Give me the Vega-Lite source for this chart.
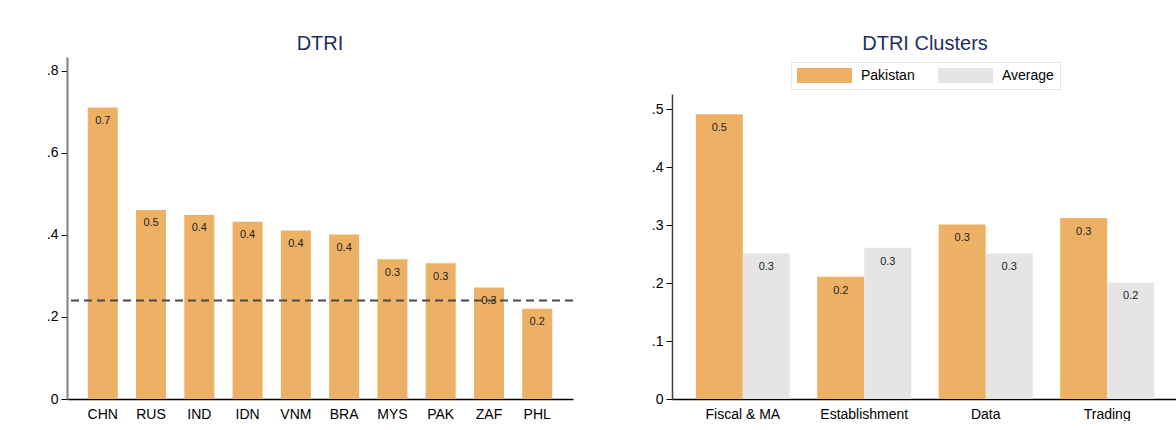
{
  "$schema": "https://vega.github.io/schema/vega-lite/v6.json",
  "background": "white",
  "padding": {"top": 34, "left": 46, "right": 0, "bottom": 0},
  "config": {
    "font": "Liberation Sans, Arial, sans-serif",
    "view": {"stroke": null},
    "axis": {"grid": false, "labelFont": "Liberation Sans, Arial, sans-serif", "labelFontSize": 14, "labelColor": "#000000", "title": null},
    "legend": {"layout": {"top": {"anchor": "middle"}}}
  },
  "columns": 2,
  "align": "none",
  "spacing": 77,
  "resolve": {"scale": {"color": "independent"}},
  "concat": [
    {
      "width": 506,
      "height": 342,
      "title": {"text": "DTRI", "fontSize": 20, "fontWeight": "normal", "color": "#1e2f5c", "anchor": "middle", "frame": "group", "offset": 3, "font": "Liberation Sans, Arial, sans-serif"},
      "data": {"values": [
        {"country": "CHN", "dtri": 0.711},
        {"country": "RUS", "dtri": 0.461},
        {"country": "IND", "dtri": 0.449},
        {"country": "IDN", "dtri": 0.432},
        {"country": "VNM", "dtri": 0.411},
        {"country": "BRA", "dtri": 0.401},
        {"country": "MYS", "dtri": 0.341},
        {"country": "PAK", "dtri": 0.331},
        {"country": "ZAF", "dtri": 0.272},
        {"country": "PHL", "dtri": 0.22}
      ]},
      "encoding": {
        "x": {"field": "country", "type": "nominal", "sort": null,
              "scale": {"paddingInner": 0.378, "paddingOuter": 0.43},
              "axis": {"ticks": false, "labelAngle": 0, "labelPadding": 8, "domainColor": "#000000", "domainWidth": 1.5, "title": null}},
        "y": {"field": "dtri", "type": "quantitative",
              "scale": {"domain": [0, 0.834], "nice": false, "zero": true},
              "axis": {"values": [0, 0.2, 0.4, 0.6, 0.8],
                       "labelExpr": "datum.value == 0 ? '0' : replace(format(datum.value, '.1f'), '0.', '.')",
                       "domainColor": "#808080", "domainWidth": 2, "tickColor": "#000000", "tickSize": 6, "tickWidth": 1, "labelPadding": 3, "title": null}}
      },
      "layer": [
        {"mark": {"type": "bar", "color": "#edb166"}},
        {"data": {"values": [{"average": 0.24}]},
         "mark": {"type": "rule", "color": "#4a4a4a", "strokeWidth": 2, "strokeDash": [8, 5]},
         "encoding": {"y": {"field": "average", "type": "quantitative"}, "x": null}},
        {"mark": {"type": "text", "baseline": "middle", "dy": 13.5, "fontSize": 11, "color": "#222222"},
         "encoding": {"text": {"field": "dtri", "type": "quantitative", "format": ".1f"}}}
      ]
    },
    {
      "width": 506,
      "height": 342,
      "title": {"text": "DTRI Clusters", "fontSize": 20, "fontWeight": "normal", "color": "#1e2f5c", "anchor": "middle", "frame": "group", "offset": 3, "font": "Liberation Sans, Arial, sans-serif"},
      "data": {"values": [
        {"cluster": "Fiscal & MA", "group": "Pakistan", "score": 0.491},
        {"cluster": "Fiscal & MA", "group": "Average", "score": 0.251},
        {"cluster": "Establishment", "group": "Pakistan", "score": 0.211},
        {"cluster": "Establishment", "group": "Average", "score": 0.261},
        {"cluster": "Data", "group": "Pakistan", "score": 0.301},
        {"cluster": "Data", "group": "Average", "score": 0.251},
        {"cluster": "Trading", "group": "Pakistan", "score": 0.312},
        {"cluster": "Trading", "group": "Average", "score": 0.201}
      ]},
      "encoding": {
        "x": {"field": "cluster", "type": "nominal", "sort": null,
              "scale": {"paddingInner": 0.226, "paddingOuter": 0.196},
              "axis": {"ticks": false, "labelAngle": 0, "labelPadding": 8, "domainColor": "#000000", "domainWidth": 1.5, "title": null}},
        "xOffset": {"field": "group", "type": "nominal", "sort": ["Pakistan", "Average"], "scale": {"paddingInner": 0, "paddingOuter": 0}},
        "y": {"field": "score", "type": "quantitative",
              "scale": {"domain": [0, 0.526], "nice": false, "zero": true, "range": [342, 37]},
              "axis": {"values": [0, 0.1, 0.2, 0.3, 0.4, 0.5],
                       "labelExpr": "datum.value == 0 ? '0' : replace(format(datum.value, '.1f'), '0.', '.')",
                       "domainColor": "#404040", "domainWidth": 1.5, "tickColor": "#000000", "tickSize": 6, "tickWidth": 1, "labelPadding": 3, "title": null}}
      },
      "layer": [
        {"mark": {"type": "bar"},
         "encoding": {"color": {"field": "group", "type": "nominal", "sort": ["Pakistan", "Average"],
                                "scale": {"domain": ["Pakistan", "Average"], "range": ["#edb166", "#e5e5e5"]},
                                "legend": {"orient": "top", "direction": "horizontal", "title": null,
                                           "symbolType": "M-1,-0.2727H1V0.2727H-1Z", "symbolSize": 3025, "clipHeight": 15,
                                           "symbolStrokeWidth": 0, "symbolOpacity": 1,
                                           "labelFontSize": 14, "labelColor": "#000000", "labelOffset": 9,
                                           "columnPadding": 23, "padding": 6, "strokeColor": "#e1e8ec", "offset": -32}}}},
        {"mark": {"type": "text", "baseline": "middle", "dy": 14, "fontSize": 11, "color": "#222222"},
         "encoding": {"text": {"field": "score", "type": "quantitative", "format": ".1f"}}}
      ]
    }
  ]
}
